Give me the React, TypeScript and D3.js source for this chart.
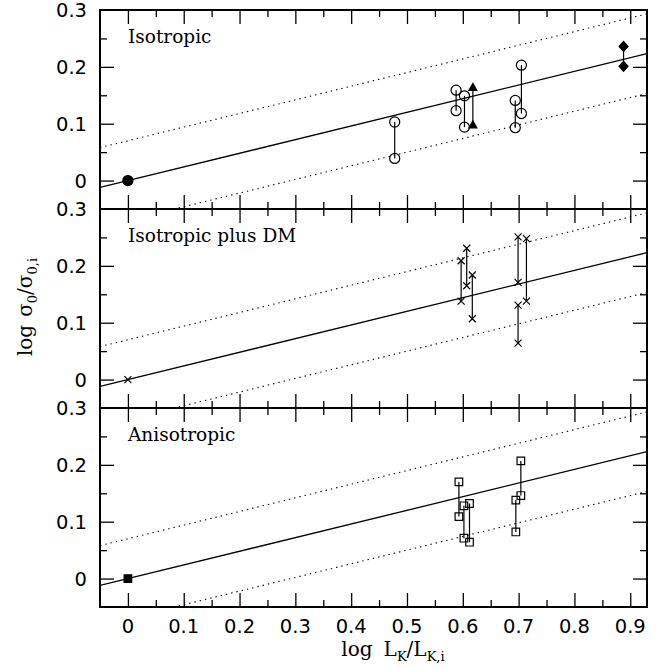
import React, { useEffect, useRef } from "react";
import * as d3 from "d3";

const xTicks = [0, 0.1, 0.2, 0.3, 0.4, 0.5, 0.6, 0.7, 0.8, 0.9];
const yTicks = [0, 0.1, 0.2, 0.3];
const panelNames = ["Isotropic", "Isotropic plus DM", "Anisotropic"];

// fitted relation and its scatter band
const fitSlope = 0.24;
const bandOffset = 0.07;

// [log L, upper log sigma, lower log sigma] for each connected pair
const isoCircles = [
  [0.478, 0.103, 0.039],
  [0.588, 0.159, 0.123],
  [0.603, 0.149, 0.094],
  [0.694, 0.141, 0.093],
  [0.705, 0.203, 0.118],
];
const isoTriangles = [[0.618, 0.163, 0.097]];
const isoDiamonds = [[0.888, 0.236, 0.201]];
const dmCrosses = [
  [0.597, 0.209, 0.138],
  [0.607, 0.231, 0.165],
  [0.617, 0.184, 0.107],
  [0.699, 0.251, 0.171],
  [0.699, 0.131, 0.064],
  [0.714, 0.248, 0.138],
];
const anisoSquares = [
  [0.593, 0.17, 0.109],
  [0.602, 0.128, 0.071],
  [0.612, 0.132, 0.064],
  [0.695, 0.138, 0.082],
  [0.704, 0.207, 0.146],
];
const reference = [0, 0];

const shapes = {
  circle: d3.symbol().type(d3.symbolCircle).size(80)(),
  triangle: "M0,-4.5L4,2.5L-4,2.5Z",
  diamond: "M0,-5L4.5,0L0,5L-4.5,0Z",
  square: "M-3.8,-3.8H3.8V3.8H-3.8Z",
  cross: "M-3.5,-3.5L3.5,3.5M-3.5,3.5L3.5,-3.5",
};

export default function App() {
  const svgRef = useRef(null);

  useEffect(() => {
    const width = 670;
    const height = 668;
    const left = 100;
    const right = 647;
    const top = 10;
    const panelH = 199;
    const sans = "DejaVu Sans, sans-serif";
    const serif = "DejaVu Serif, serif";

    const svg = d3.select(svgRef.current);
    svg.selectAll("*").remove();
    svg.attr("width", width).attr("height", height);

    const x = d3.scaleLinear().domain([-0.05, 0.93]).range([left, right]);
    const xMajor = d3.range(0, 0.95, 0.1);
    const xMinor = d3.range(0.05, 0.93, 0.1);

    const panels = [
      [{ data: isoCircles, shape: "circle", fill: false }, { data: isoTriangles, shape: "triangle", fill: true }, { data: isoDiamonds, shape: "diamond", fill: true }],
      [{ data: dmCrosses, shape: "cross", fill: false }],
      [{ data: anisoSquares, shape: "square", fill: false }],
    ];
    const refShapes = ["circle", "cross", "square"];

    panels.forEach((groups, p) => {
      const y0 = top + p * panelH;
      const y = d3.scaleLinear().domain([-0.05, 0.3]).range([y0 + panelH, y0]);
      const g = svg.append("g");

      svg
        .append("clipPath")
        .attr("id", `clip${p}`)
        .append("rect")
        .attr("x", left)
        .attr("y", y0)
        .attr("width", right - left)
        .attr("height", panelH);

      // ticks on all four sides
      const tickSets = [
        [d3.axisTop(x).tickValues(xMajor).tickSize(14), `translate(0,${y0 + panelH})`],
        [d3.axisTop(x).tickValues(xMinor).tickSize(7), `translate(0,${y0 + panelH})`],
        [d3.axisBottom(x).tickValues(xMajor).tickSize(14), `translate(0,${y0})`],
        [d3.axisBottom(x).tickValues(xMinor).tickSize(7), `translate(0,${y0})`],
        [d3.axisRight(y).tickValues([0, 0.1, 0.2]).tickSize(14), `translate(${left},0)`],
        [d3.axisRight(y).tickValues([0.05, 0.15, 0.25]).tickSize(7), `translate(${left},0)`],
        [d3.axisLeft(y).tickValues([0, 0.1, 0.2]).tickSize(14), `translate(${right},0)`],
        [d3.axisLeft(y).tickValues([0.05, 0.15, 0.25]).tickSize(7), `translate(${right},0)`],
      ];
      tickSets.forEach(([axis, tr]) => {
        const a = g.append("g").attr("transform", tr).call(axis.tickFormat(() => ""));
        a.select(".domain").remove();
        a.selectAll("line").attr("stroke", "#000").attr("stroke-width", 1.3);
      });

      // fit line and scatter band
      const lineGen = d3
        .line()
        .x((d) => x(d[0]))
        .y((d) => y(d[1]));
      const fitG = g.append("g").attr("clip-path", `url(#clip${p})`);
      [0, bandOffset, -bandOffset].forEach((off) => {
        fitG
          .append("path")
          .attr("d", lineGen([-0.05, 0.93].map((v) => [v, fitSlope * v + off])))
          .attr("fill", "none")
          .attr("stroke", "#000")
          .attr("stroke-width", off === 0 ? 1.3 : 1.1)
          .attr("stroke-dasharray", off === 0 ? null : "1.4 4");
      });

      // connected pairs
      groups.forEach((grp) => {
        g.selectAll(null)
          .data(grp.data)
          .enter()
          .append("line")
          .attr("x1", (d) => x(d[0]))
          .attr("x2", (d) => x(d[0]))
          .attr("y1", (d) => y(d[1]))
          .attr("y2", (d) => y(d[2]))
          .attr("stroke", "#000")
          .attr("stroke-width", 1.2);
        const pts = grp.data.flatMap((d) => [[d[0], d[1]], [d[0], d[2]]]);
        g.selectAll(null)
          .data(pts)
          .enter()
          .append("path")
          .attr("transform", (d) => `translate(${x(d[0])},${y(d[1])})`)
          .attr("d", shapes[grp.shape])
          .attr("fill", grp.fill ? "#000" : "none")
          .attr("stroke", "#000")
          .attr("stroke-width", 1.2);
      });

      // reference point at the origin
      const rs = refShapes[p];
      g.append("path")
        .attr("transform", `translate(${x(reference[0])},${y(reference[1])})`)
        .attr("d", rs === "circle" ? d3.symbol().type(d3.symbolCircle).size(80)() : shapes[rs])
        .attr("fill", rs === "cross" ? "none" : "#000")
        .attr("stroke", "#000")
        .attr("stroke-width", 1.2);

      // frame
      g.append("rect")
        .attr("x", left)
        .attr("y", y0)
        .attr("width", right - left)
        .attr("height", panelH)
        .attr("fill", "none")
        .attr("stroke", "#000")
        .attr("stroke-width", 2);

      // y tick labels
      g.selectAll(null)
        .data(yTicks)
        .enter()
        .append("text")
        .attr("x", 87)
        .attr("y", (d) => y(d))
        .attr("dy", "0.36em")
        .attr("text-anchor", "end")
        .style("font-family", sans)
        .style("font-size", "19.5px")
        .text((d) => (d === 0 ? "0" : d3.format(".1f")(d)));

      g.append("text")
        .attr("x", 128)
        .attr("y", y0 + 33)
        .style("font-family", serif)
        .style("font-size", "18.5px")
        .text(panelNames[p]);
    });

    // x tick labels
    svg
      .selectAll(null)
      .data(xTicks)
      .enter()
      .append("text")
      .attr("x", (d) => x(d))
      .attr("y", 633)
      .attr("text-anchor", "middle")
      .style("font-family", sans)
      .style("font-size", "19.5px")
      .text((d) => (d === 0 ? "0" : d3.format(".1f")(d)));

    // x axis title
    const xt = svg
      .append("text")
      .attr("x", 393)
      .attr("y", 656)
      .attr("text-anchor", "middle")
      .style("font-family", serif)
      .style("font-size", "20px");
    xt.append("tspan").text("log");
    xt.append("tspan").attr("dx", 11).text("L");
    xt.append("tspan").attr("dy", 5).style("font-size", "13px").text("K");
    xt.append("tspan").attr("dy", -5).text("/L");
    xt.append("tspan").attr("dy", 5).style("font-size", "13px").text("K,i");

    // y axis title
    const yt = svg
      .append("text")
      .attr("transform", "translate(32,307) rotate(-90)")
      .attr("text-anchor", "middle")
      .style("font-family", serif)
      .style("font-size", "20px");
    yt.append("tspan").text("log");
    yt.append("tspan").attr("dx", 8).text("σ");
    yt.append("tspan").attr("dy", 5).style("font-size", "13px").text("0");
    yt.append("tspan").attr("dy", -5).text("/σ");
    yt.append("tspan").attr("dy", 5).style("font-size", "13px").text("0,i");
  }, []);

  return (
    <div style={{ position: "absolute", left: 0, top: 0 }}>
      <svg ref={svgRef} style={{ display: "block", background: "#fff" }}></svg>
    </div>
  );
}
